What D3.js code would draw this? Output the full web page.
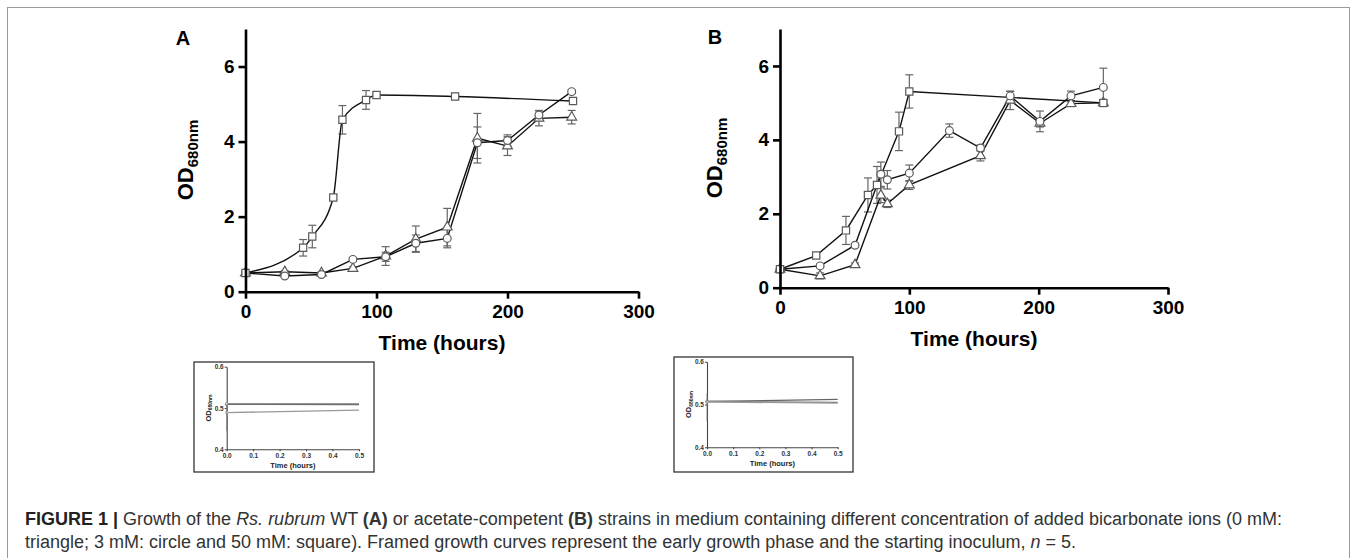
<!DOCTYPE html>
<html>
<head>
<meta charset="utf-8">
<script src="https://cdn.jsdelivr.net/npm/d3@7"></script>
<style>
  body { margin: 0; background: #fff; }
  svg { display: block; font-family: "Liberation Sans", Arial, sans-serif; }
</style>
</head>
<body>
<svg id="fig" width="1357" height="558"></svg>
<script>
// ---- data ----
// Panel A (WT)
const A_sq_t   = [0, 44, 51, 67, 74, 92, 100, 160, 250];
const A_sq_od  = [0.5, 1.17, 1.47, 2.51, 4.58, 5.11, 5.24, 5.2, 5.08];
const A_sq_sd  = [0.03, 0.22, 0.3, 0.06, 0.38, 0.25, 0.06, 0.05, 0.08];
const A_ci_t   = [0, 30, 58, 82, 107, 130, 154, 177, 200, 224, 249];
const A_ci_od  = [0.5, 0.42, 0.46, 0.86, 0.93, 1.29, 1.42, 3.97, 4.03, 4.71, 5.33];
const A_ci_sd  = [0.03, 0.03, 0.04, 0.05, 0.12, 0.22, 0.25, 0.42, 0.15, 0.12, 0.05];
const A_tr_t   = [0, 30, 58, 82, 107, 130, 154, 177, 200, 224, 249];
const A_tr_od  = [0.5, 0.53, 0.5, 0.62, 0.95, 1.4, 1.72, 4.09, 3.88, 4.62, 4.65];
const A_tr_sd  = [0.03, 0.03, 0.03, 0.04, 0.25, 0.35, 0.5, 0.66, 0.25, 0.2, 0.18];

// Panel B (acetate-competent)
const B_sq_t   = [0, 28, 51, 68, 75, 92, 100, 250];
const B_sq_od  = [0.5, 0.87, 1.55, 2.51, 2.78, 4.23, 5.31, 5.0];
const B_sq_sd  = [0.03, 0.05, 0.38, 0.46, 0.5, 0.52, 0.45, 0.05];
const B_ci_t   = [0, 31, 58, 78, 83, 100, 131, 155, 178, 201, 225, 250];
const B_ci_od  = [0.5, 0.59, 1.15, 3.07, 2.92, 3.1, 4.25, 3.78, 5.19, 4.5, 5.19, 5.42];
const B_ci_sd  = [0.03, 0.05, 0.05, 0.33, 0.25, 0.22, 0.18, 0.08, 0.12, 0.28, 0.13, 0.52];
const B_tr_t   = [0, 31, 58, 78, 83, 100, 155, 178, 201, 225, 250];
const B_tr_od  = [0.5, 0.32, 0.62, 2.5, 2.27, 2.78, 3.57, 5.07, 4.45, 4.98, 5.0];
const B_tr_sd  = [0.03, 0.08, 0.05, 0.2, 0.1, 0.12, 0.14, 0.25, 0.1, 0.08, 0.05];

const xTicks = [0, 100, 200, 300];
const yTicks = [0, 2, 4, 6];

// insets: early phase, t = 0 and 0.5 h
const inset_t   = [0, 0.5];
const insA_tr   = [0.509, 0.508];
const insA_sq   = [0.510, 0.510];
const insA_ci   = [0.489, 0.495];
const insB_tr   = [0.507, 0.512];
const insB_sq   = [0.507, 0.505];
const insB_ci   = [0.506, 0.503];
const insXTicks = [0, 0.1, 0.2, 0.3, 0.4, 0.5];
const insYTicks = [0.4, 0.5, 0.6];

const svg = d3.select("#fig");

// outer frame
svg.append("rect").attr("x", 7.5).attr("y", 7.5).attr("width", 1342).attr("height", 570)
    .attr("fill", "none").attr("stroke", "#9a9a9a").attr("stroke-width", 1);

const zip = (t, od, sd) => t.map((d, i) => ({ t: d, od: od[i], sd: sd[i] }));

function panel(o) {
    const x = d3.scaleLinear().domain([0, 300]).range(o.xr);
    const y = d3.scaleLinear().domain([0, 7]).range(o.yr);
    const g = svg.append("g");

    o.series.forEach(s => {
        const pts = zip(s.t, s.od, s.sd);
        // error bars
        const eb = g.append("g").attr("stroke", "#666").attr("stroke-width", 1.2);
        pts.forEach(p => {
            const px = x(p.t), y1 = y(p.od + p.sd), y0 = y(p.od - p.sd);
            eb.append("line").attr("x1", px).attr("x2", px).attr("y1", y1).attr("y2", y0);
            eb.append("line").attr("x1", px - 4).attr("x2", px + 4).attr("y1", y1).attr("y2", y1);
            eb.append("line").attr("x1", px - 4).attr("x2", px + 4).attr("y1", y0).attr("y2", y0);
        });
    });
    o.series.forEach(s => {
        const pts = zip(s.t, s.od, s.sd);
        g.append("path").datum(pts)
            .attr("fill", "none").attr("stroke", "#111").attr("stroke-width", 1.4)
            .attr("d", d3.line().x(d => x(d.t)).y(d => y(d.od)).curve(s.curve || d3.curveLinear));
    });
    o.series.forEach(s => {
        const pts = zip(s.t, s.od, s.sd);
        g.append("g").selectAll("path").data(pts).enter().append("path")
            .attr("transform", d => `translate(${x(d.t)},${y(d.od)})`)
            .attr("d", d3.symbol().type(s.sym).size(s.size))
            .attr("fill", "#fff").attr("stroke", "#5a5a5a").attr("stroke-width", 1.2);
    });

    const styleAxis = a => {
        a.select(".domain").attr("stroke", "#000").attr("stroke-width", 2.6);
        a.selectAll(".tick line").attr("stroke", "#000").attr("stroke-width", 2.6);
        a.selectAll("text").attr("fill", "#000").attr("font-size", 19).attr("font-weight", "bold");
    };
    g.append("g").attr("transform", `translate(0,${o.yr[0]})`)
        .call(d3.axisBottom(x).tickValues(xTicks).tickFormat(d3.format("d"))
            .tickSize(7).tickSizeOuter(0).tickPadding(6))
        .call(styleAxis);
    g.append("g").attr("transform", `translate(${o.xr[0]},0)`)
        .call(d3.axisLeft(y).tickValues(yTicks).tickFormat(d3.format("d"))
            .tickSize(7).tickSizeOuter(0).tickPadding(4))
        .call(styleAxis);

    g.append("text").attr("x", (o.xr[0] + o.xr[1]) / 2).attr("y", o.yr[0] + 58)
        .attr("text-anchor", "middle").attr("font-size", 21).attr("font-weight", "bold")
        .text("Time (hours)");

    const yl = g.append("text").attr("text-anchor", "middle").attr("font-weight", "bold")
        .attr("transform", `translate(${o.ylx},${o.yly}) rotate(-90)`);
    yl.append("tspan").attr("font-size", 22).text("OD");
    yl.append("tspan").attr("font-size", 15).attr("dy", 5).text("680nm");

    g.append("text").attr("x", o.lx).attr("y", o.ly).attr("text-anchor", "middle")
        .attr("font-size", 20).attr("font-weight", "bold").text(o.letter);
}

const sq = { sym: d3.symbolSquare, size: 52 };
const ci = { sym: d3.symbolCircle, size: 48 };
const tr = { sym: d3.symbolTriangle, size: 42 };

panel({
    xr: [245.5, 638.5], yr: [291.7, 29], ylx: 193, yly: 160, lx: 183, ly: 45, letter: "A",
    series: [
        { ...tr, t: A_tr_t, od: A_tr_od, sd: A_tr_sd },
        { ...ci, t: A_ci_t, od: A_ci_od, sd: A_ci_sd },
        { ...sq, t: A_sq_t, od: A_sq_od, sd: A_sq_sd, curve: d3.curveMonotoneX }
    ]
});
panel({
    xr: [780, 1168], yr: [287.7, 29], ylx: 722, yly: 158, lx: 715, ly: 44, letter: "B",
    series: [
        { ...tr, t: B_tr_t, od: B_tr_od, sd: B_tr_sd },
        { ...ci, t: B_ci_t, od: B_ci_od, sd: B_ci_sd },
        { ...sq, t: B_sq_t, od: B_sq_od, sd: B_sq_sd }
    ]
});

function inset(o) {
    const g = svg.append("g");
    g.append("rect").attr("x", o.frame[0]).attr("y", o.frame[1])
        .attr("width", o.frame[2]).attr("height", o.frame[3])
        .attr("fill", "#fff").attr("stroke", "#333").attr("stroke-width", 1.3);
    const x = d3.scaleLinear().domain([0, 0.5]).range(o.xr);
    const y = d3.scaleLinear().domain([0.4, 0.6]).range(o.yr);

    const styleAxis = a => {
        a.select(".domain").attr("stroke", "#444").attr("stroke-width", 1.1);
        a.selectAll(".tick line").attr("stroke", "#444").attr("stroke-width", 1.1);
        a.selectAll("text").attr("fill", "#333").attr("font-size", 6.5).attr("font-weight", "bold");
    };
    g.append("g").attr("transform", `translate(0,${o.yr[0]})`)
        .call(d3.axisBottom(x).tickValues(insXTicks).tickFormat(d3.format(".1f")).tickSize(2).tickSizeOuter(0).tickPadding(2))
        .call(styleAxis);
    g.append("g").attr("transform", `translate(${o.xr[0]},0)`)
        .call(d3.axisLeft(y).tickValues(insYTicks).tickFormat(d3.format(".1f")).tickSize(2).tickSizeOuter(0).tickPadding(1))
        .call(styleAxis);

    const cols = ["#666", "#777", "#999"];
    o.lines.forEach((vals, i) => {
        const pts = inset_t.map((t, j) => ({ t, v: vals[j] }));
        g.append("path").datum(pts).attr("fill", "none").attr("stroke", cols[i]).attr("stroke-width", 1.3)
            .attr("d", d3.line().x(d => x(d.t)).y(d => y(d.v)));
        g.append("circle").attr("cx", x(0)).attr("cy", y(vals[0])).attr("r", 1.3)
            .attr("fill", "#fff").attr("stroke", cols[i]).attr("stroke-width", 0.8);
    });
    // error bar at t = 0 on the lowest curve
    const lo = o.lines[2][0];
    g.append("line").attr("x1", x(0)).attr("x2", x(0)).attr("y1", y(lo + 0.02)).attr("y2", y(lo - 0.045))
        .attr("stroke", "#777").attr("stroke-width", 0.8);

    g.append("text").attr("x", (o.xr[0] + o.xr[1]) / 2).attr("y", o.yr[0] + 19)
        .attr("text-anchor", "middle").attr("font-size", 7.5).attr("font-weight", "bold").attr("fill", "#222")
        .text("Time (hours)");
    const yl = g.append("text").attr("text-anchor", "middle").attr("font-weight", "bold").attr("fill", "#222")
        .attr("transform", `translate(${o.xr[0] - 16},${(o.yr[0] + o.yr[1]) / 2}) rotate(-90)`);
    yl.append("tspan").attr("font-size", 7.5).text("OD");
    yl.append("tspan").attr("font-size", 5).attr("dy", 1.5).text("680nm");
}

inset({ frame: [194, 362, 180, 110], xr: [226.7, 359], yr: [449.3, 366.7], lines: [insA_tr, insA_sq, insA_ci] });
inset({ frame: [674, 357, 179, 115], xr: [707, 837.7], yr: [447.3, 361.7], lines: [insB_tr, insB_sq, insB_ci] });

// caption
const cap = svg.append("g").attr("font-size", 18).attr("fill", "#333");
const l1 = cap.append("text").attr("x", 25).attr("y", 525);
l1.append("tspan").attr("font-weight", "bold").attr("fill", "#222").text("FIGURE 1 | ");
l1.append("tspan").text("Growth of the ");
l1.append("tspan").attr("font-style", "italic").text("Rs. rubrum");
l1.append("tspan").text(" WT ");
l1.append("tspan").attr("font-weight", "bold").text("(A)");
l1.append("tspan").text(" or acetate-competent ");
l1.append("tspan").attr("font-weight", "bold").text("(B)");
l1.append("tspan").text(" strains in medium containing different concentration of added bicarbonate ions (0 mM:");
const l2 = cap.append("text").attr("x", 25).attr("y", 548);
l2.append("tspan").text("triangle; 3 mM: circle and 50 mM: square). Framed growth curves represent the early growth phase and the starting inoculum, ");
l2.append("tspan").attr("font-style", "italic").text("n");
l2.append("tspan").text(" = 5.");
</script>
</body>
</html>
